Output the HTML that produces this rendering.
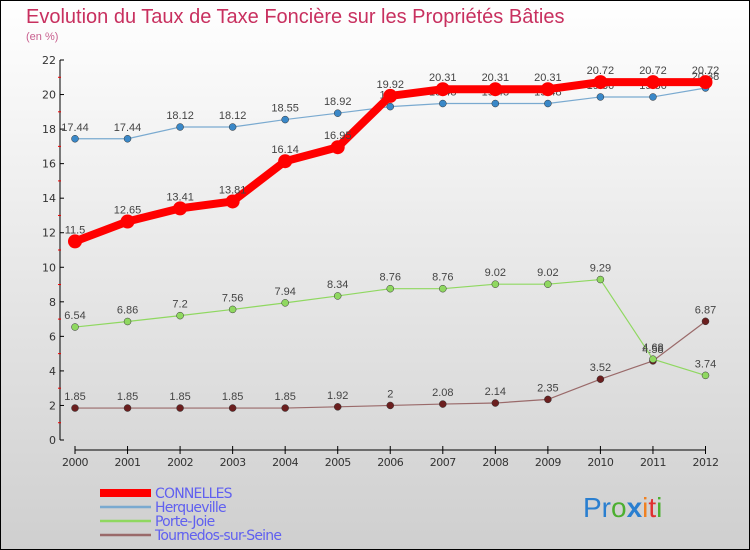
<!DOCTYPE html>
<html><head><meta charset="utf-8"><style>
body{margin:0;padding:0}
#c{width:750px;height:550px;position:relative;overflow:hidden}
svg{font-family:"DejaVu Sans","Liberation Sans",sans-serif}
</style></head><body>
<div id="c">
<svg id="s" width="750" height="550" xmlns="http://www.w3.org/2000/svg">
<defs><linearGradient id="bg" x1="0" y1="0" x2="0" y2="1"><stop offset="0" stop-color="#ffffff"/><stop offset="1" stop-color="#cfcfcf"/></linearGradient></defs>
<rect x="0.5" y="0.5" width="749" height="549" fill="url(#bg)" stroke="#000"/>
<text x="26" y="23" font-size="20" fill="#c8305f" font-family="Liberation Sans">Evolution du Taux de Taxe Foncière sur les Propriétés Bâties</text>
<text x="26" y="40" font-size="11" fill="#c8608f" font-family="Liberation Sans">(en %)</text>
<g id="axes"></g><g id="series"></g><g id="legend"></g>
<text x="583" y="517" font-size="28" font-family="Liberation Sans"><tspan fill="#2a7fd0">Pr</tspan><tspan fill="#4caf30">o</tspan><tspan fill="#2a7fd0" font-weight="bold">x</tspan><tspan fill="#f08020">i</tspan><tspan fill="#e03030">t</tspan><tspan fill="#4caf30">i</tspan></text>
</svg></div>
<script>
const years=[2000,2001,2002,2003,2004,2005,2006,2007,2008,2009,2010,2011,2012];
const connelles=[11.5,12.65,13.41,13.81,16.14,16.95,19.92,20.31,20.31,20.31,20.72,20.72,20.72];
const herqueville=[17.44,17.44,18.12,18.12,18.55,18.92,19.3,19.48,19.48,19.48,19.86,19.86,20.38];
const porteJoie=[6.54,6.86,7.2,7.56,7.94,8.34,8.76,8.76,9.02,9.02,9.29,4.68,3.74];
const tournedos=[1.85,1.85,1.85,1.85,1.85,1.92,2,2.08,2.14,2.35,3.52,4.58,6.87];
const yTicks=[0,2,4,6,8,10,12,14,16,18,20,22];
const NS="http://www.w3.org/2000/svg";
const X=i=>75+i*(705.5-75)/(years.length-1);
const Y=v=>440-v*(440-60)/22;
function mk(t,a,p){const e=document.createElementNS(NS,t);for(const k in a)e.setAttribute(k,a[k]);p.appendChild(e);return e;}
const ax=document.getElementById('axes');
let yl=mk('line',{x1:60,y1:60,x2:60,y2:440,stroke:'#000'},ax);


yTicks.forEach(v=>{
 mk('line',{x1:60,x2:64,y1:Y(v),y2:Y(v),stroke:'#000'},ax);
 if(v<22){mk('line',{x1:58,x2:61,y1:Y(v+1),y2:Y(v+1),stroke:'#e00'},ax);}
 const t=mk('text',{x:56,y:Y(v)+4,'font-size':11,'text-anchor':'end',fill:'#333'},ax);t.textContent=v;
 
 
});
let xl=mk('line',{x1:75,y1:450,x2:705.5,y2:450,stroke:'#000'},ax);


years.forEach((y,i)=>{
 mk('line',{x1:X(i),x2:X(i),y1:446,y2:454,stroke:'#000'},ax);
 const t=mk('text',{x:X(i),y:466,'font-size':11,'text-anchor':'middle',fill:'#333','letter-spacing':'-0.5'},ax);t.textContent=y;
 
 
});
const sg=document.getElementById('series');
const defs=[
 {d:tournedos,c:'#6b1f1f',lc:'#9a6a6a',w:1.2,r:3.5,n:'tournedos-sur-seine',label:'Tournedos-sur-Seine'},
 {d:porteJoie,c:'#8fd860',lc:'#8fd860',w:1.2,r:3.5,n:'porte-joie',label:'Porte-Joie'},
 {d:herqueville,c:'#3a88c8',lc:'#7aaad0',w:1.2,r:3.5,n:'herqueville',label:'Herqueville'},
 {d:connelles,c:'#ff0000',lc:'#ff0000',w:8,r:7,n:'connelles',label:'CONNELLES'}
];
defs.forEach(s=>{
 const g=mk('g',{},sg);
 
 
 const pl=mk('polyline',{points:s.d.map((v,i)=>X(i)+','+Y(v)).join(' '),fill:'none',stroke:s.lc,'stroke-width':s.w,'stroke-linejoin':'round'},g);
 
 
 s.d.forEach((v,i)=>{
  const c=mk('circle',{cx:X(i),cy:Y(v),r:s.r,fill:s.c,stroke:s.w>2?'none':'#333','stroke-width':0.5},g);
  
  
  const t=mk('text',{x:X(i),y:Y(v)-8,'font-size':11,'text-anchor':'middle',fill:'#444','font-family':'Liberation Sans'},g);
  t.textContent=String(v);
  
  
 });
});
const lg=document.getElementById('legend');
const leg=[defs[3],defs[2],defs[1],defs[0]];
leg.forEach((s,i)=>{
 const y=493+i*14;
 const g=mk('g',{},lg);
 
 
 mk('line',{x1:100,x2:151,y1:y,y2:y,stroke:s.lc,'stroke-width':i==0?8:2.5},g);
 const t=mk('text',{x:155,y:y+5,'font-size':14,fill:'#6060f0','letter-spacing':'-0.8'},g);t.textContent=s.label;
});
</script>
</body></html>
